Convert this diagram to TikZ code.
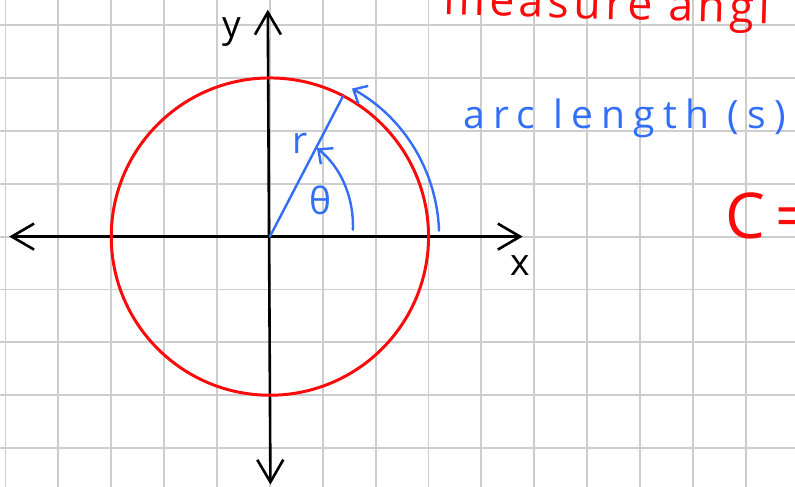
\documentclass[tikz,border=0pt]{standalone}
\usepackage{fontspec}
\setmainfont{Open Sans}
\usetikzlibrary{arrows.meta, positioning}
\definecolor{penred}{RGB}{250,10,10}
\definecolor{penblue}{RGB}{50,110,250}
\definecolor{gridgray}{RGB}{205,205,205}

\begin{document}
\begin{tikzpicture}[
	axis/.style={line width=1.4pt, line cap=round, {Straight Barb[length=12pt, width=14pt]}-{Straight Barb[length=12pt, width=14pt]}},
	redpen/.style={line width=1.6pt, color=penred},
	bluepen/.style={line width=1.3pt, color=penblue, line cap=round, -{Straight Barb[length=6pt, width=11pt]}},
	hand/.style={inner sep=0pt, font=\fontsize{20}{20}\selectfont}
]
	\useasboundingbox (-5.104, -4.732) rectangle (9.93, 4.474);
	\clip (-5.104, -4.732) rectangle (9.93, 4.474);
	\draw[line width=1pt, color=gridgray] (-5.5, -5.5) grid (10.5, 4.9);
	% axes
	\coordinate (O) at (0, 0);
	\coordinate (xleft) at (-4.93, 0);
	\coordinate (xright) at (4.78, 0);
	\coordinate (ytop) at (-0.04, 4.29);
	\coordinate (ybot) at (0.01, -4.69);
	\draw[axis] (xleft) -- (xright);
	\draw[axis] (ybot) -- (ytop);
	\node[hand] (ylabel) at (-0.72, 3.87) {y};
	\node[hand] (xlabel) at (4.73, -0.54) {x};
	% unit circle
	\draw[redpen] (O) circle (3);
	% radius, angle and arc
	\coordinate (rim) at (62.5:3);
	\draw[bluepen, -] (O) -- (rim);
	\coordinate (tstart) at (1.57, 0.13);
	\coordinate (tend) at (0.89, 1.67);
	\draw[bluepen] (tstart) .. controls (1.59, 0.8) and (1.3, 1.35) .. (tend);
	\coordinate (sstart) at (2:3.2);
	\draw[bluepen] (sstart) arc[start angle=2, end angle=61, radius=3.2];
	\node[hand, penblue] (rlabel) at (0.57, 1.77) {r};
	\node[hand, penblue] (thetalabel) at (0.95, 0.69) {θ};
	% notes
	\node[hand, penred, anchor=base west, rotate=-1.6, font=\fontsize{24}{24}\selectfont\addfontfeature{LetterSpace=10}] (measure) at (3.27, 4.2) {measure angl};
	\node[hand, penblue, anchor=base west, font=\fontsize{21}{21}\selectfont\addfontfeature{LetterSpace=21}] (arclen) at (3.65, 2.05) {arc length (s)};
	\node[hand, penred, anchor=base west, font=\fontsize{34}{34}\selectfont] (circum) at (8.6, -0.03) {C\,=};
\end{tikzpicture}
\end{document}
